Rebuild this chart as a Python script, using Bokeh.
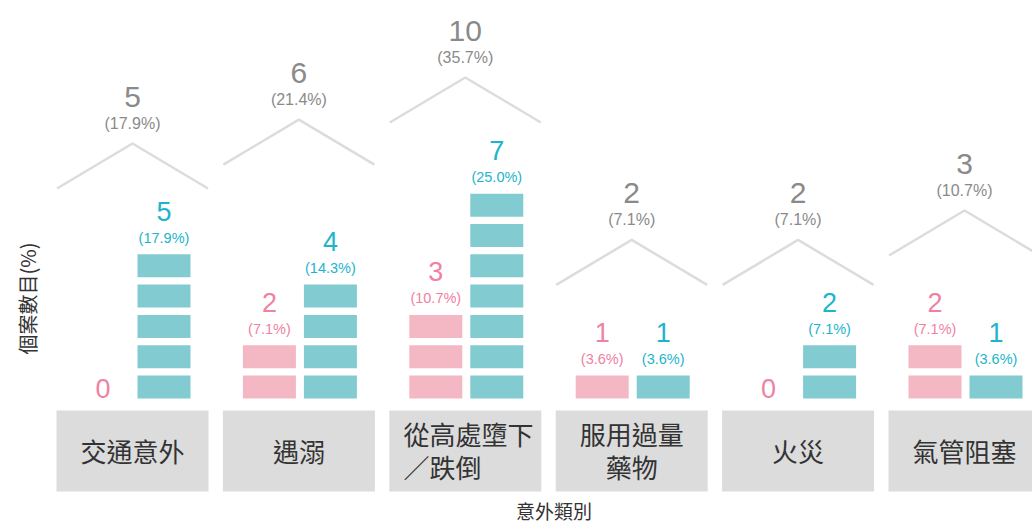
import numpy as np
from bokeh.plotting import figure
from bokeh.models import ColumnDataSource, Range1d
from bokeh.embed import file_html
from bokeh.resources import INLINE
from bokeh.core.properties import value

# ---------------- data ----------------
categories = ["交通意外", "遇溺", "從高處墮下\n／跌倒", "服用過量\n藥物", "火災", "氣管阻塞"]
pink_counts = [0, 2, 3, 1, 0, 2]
teal_counts = [5, 4, 7, 1, 2, 1]
total_counts = [5, 6, 10, 2, 2, 3]
pink_pct = ["", "(7.1%)", "(10.7%)", "(3.6%)", "", "(7.1%)"]
teal_pct = ["(17.9%)", "(14.3%)", "(25.0%)", "(3.6%)", "(7.1%)", "(3.6%)"]
total_pct = ["(17.9%)", "(21.4%)", "(35.7%)", "(7.1%)", "(7.1%)", "(10.7%)"]
roof_level = [6.93, 7.72, 9.11, 3.75, 3.75, 4.72]
x_title = "意外類別"
y_title = "個案數目(%)"

# ---------------- layout / style ----------------
W, H = 1032, 525
PX_X = 166.4      # pixels per category
PX_Y = 30.3       # pixels per case
x0 = -132 / PX_X
y_top = 398 / PX_Y

BLOCK_W = 53 / PX_X
BLOCK_H = 23 / PX_Y
DX_PINK = -29.5 / PX_X
DX_TEAL = 31.5 / PX_X
ROOF_HALF = 75.5 / PX_X
ROOF_H = 45 / PX_Y
BOX_HALF = 76 / PX_X

PINK_FILL = "#F4B8C4"
TEAL_FILL = "#82CBD1"
PINK_TEXT = "#EF82A2"
TEAL_TEXT = "#1DB5CB"
GRAY_TEXT = "#8A8A8A"
ROOF_COLOR = "#DCDCDC"
BOX_COLOR = "#DCDCDC"
DARK = "#333333"
NUM_FONT = value("Liberation Sans")
CJK_FONT = value("Noto Sans CJK TC")

p = figure(width=W, height=H, output_backend="svg", toolbar_location=None,
           x_axis_type=None, y_axis_type=None,
           x_range=Range1d(x0, x0 + W / PX_X), y_range=Range1d(y_top - H / PX_Y, y_top),
           min_border=0, outline_line_color=None)
p.min_border_left = p.min_border_right = p.min_border_top = p.min_border_bottom = 0
p.background_fill_color = "white"
p.border_fill_color = "white"

idx = list(range(len(categories)))

# ---------------- blocks ----------------
bx, bb, bt, bc = [], [], [], []
for i in idx:
    for k in range(pink_counts[i]):
        bx.append(i + DX_PINK); bb.append(k); bt.append(k + BLOCK_H); bc.append(PINK_FILL)
    for k in range(teal_counts[i]):
        bx.append(i + DX_TEAL); bb.append(k); bt.append(k + BLOCK_H); bc.append(TEAL_FILL)
p.vbar(x="x", bottom="b", top="t", width=BLOCK_W, fill_color="c", line_color=None,
       source=ColumnDataSource(dict(x=bx, b=bb, t=bt, c=bc)))

# ---------------- category boxes ----------------
p.quad(left=[i - BOX_HALF for i in idx], right=[i + BOX_HALF for i in idx],
       top=-12 / PX_Y, bottom=-93 / PX_Y, fill_color=BOX_COLOR, line_color=None)

label_align = ["center", "center", "left", "center", "center", "center"]
label_xoff = [0, 0, -61.8, 0, 0, 0]
p.text(x="x", y=-51.5 / PX_Y, text="t", text_align="a", x_offset="xo",
       text_baseline="middle", text_font=CJK_FONT, text_font_size="26px",
       text_line_height=0.915, text_color=DARK,
       source=ColumnDataSource(dict(x=idx, t=categories, a=label_align, xo=label_xoff)))

# ---------------- sub-stack labels ----------------
def stack_labels(counts, pcts, dx, color):
    nx, ny, nt, no = [], [], [], []
    px_, py_, pt_ = [], [], []
    for i in idx:
        c = counts[i]
        nx.append(i + dx)
        nt.append(str(c))
        if c > 0:
            top = c - 1 + BLOCK_H
            ny.append(top); no.append(-43)
            px_.append(i + dx); py_.append(top); pt_.append(pcts[i])
        else:
            ny.append(0); no.append(-10.5)
    p.text(x="x", y="y", text="t", y_offset="o", text_align="center", text_baseline="middle",
           text_font=NUM_FONT, text_font_size="27px", text_color=color,
           source=ColumnDataSource(dict(x=nx, y=ny, t=nt, o=no)))
    p.text(x=px_, y=py_, text=pt_, y_offset=-16.5, text_align="center", text_baseline="middle",
           text_font=NUM_FONT, text_font_size="14.5px", text_color=color)

stack_labels(pink_counts, pink_pct, DX_PINK, PINK_TEXT)
stack_labels(teal_counts, teal_pct, DX_TEAL, TEAL_TEXT)

# ---------------- roofs and totals ----------------
p.multi_line(xs=[[i - ROOF_HALF, i, i + ROOF_HALF] for i in idx],
             ys=[[roof_level[i], roof_level[i] + ROOF_H, roof_level[i]] for i in idx],
             line_color=ROOF_COLOR, line_width=2.5)
peaks = [roof_level[i] + ROOF_H for i in idx]
p.text(x=idx, y=peaks, text=[str(t) for t in total_counts], y_offset=-46.5,
       text_align="center", text_baseline="middle", text_font=NUM_FONT,
       text_font_size="30px", text_color=GRAY_TEXT)
p.text(x=idx, y=peaks, text=total_pct, y_offset=-20,
       text_align="center", text_baseline="middle", text_font=NUM_FONT,
       text_font_size="16px", text_color=GRAY_TEXT)

# ---------------- axis titles ----------------
p.text(x=[(553.5 - 132) / PX_X], y=[(398 - 510) / PX_Y], text=[x_title],
       text_align="center", text_baseline="middle", text_font=CJK_FONT,
       text_font_size="19px", text_color=DARK)
p.text(x=[(27 - 132) / PX_X], y=[(398 - 298) / PX_Y], text=[y_title], angle=np.pi / 2,
       text_align="center", text_baseline="middle", text_font=CJK_FONT,
       text_font_size="20px", text_color=DARK)

open("out.html", "w").write(file_html(p, INLINE))
